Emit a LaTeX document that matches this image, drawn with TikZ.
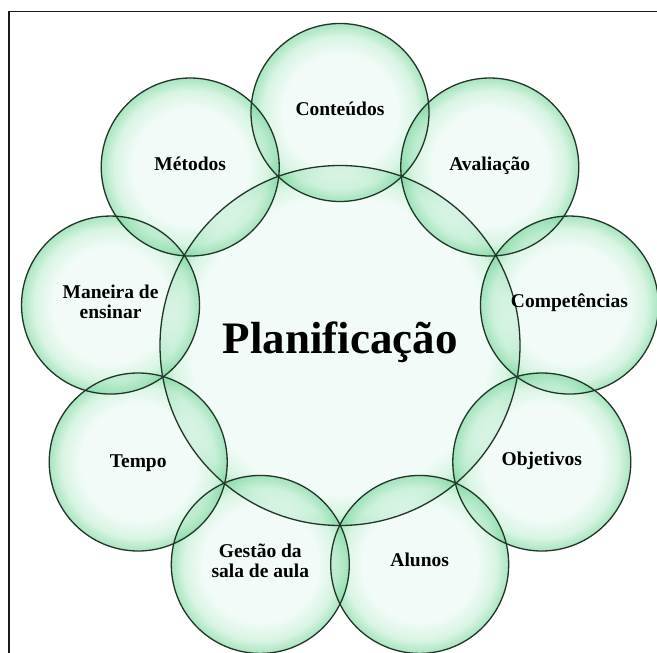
\documentclass[tikz,border=0pt]{standalone}
\usepackage{fontspec}
\setmainfont{Liberation Serif}
\usetikzlibrary{calc}
\definecolor{bubA}{RGB}{234,249,243}
\definecolor{bubB}{RGB}{190,237,208}
\definecolor{bubC}{RGB}{110,212,150}
\definecolor{rimcol}{RGB}{35,52,40}
\pgfdeclareradialshading{bubble}{\pgfpoint{0bp}{0bp}}{color(0bp)=(bubA); color(16bp)=(bubA); color(21.5bp)=(bubB); color(25bp)=(bubC); color(50bp)=(bubC)}
\pgfdeclareradialshading{bigbubble}{\pgfpoint{0bp}{0bp}}{color(0bp)=(bubA); color(20.5bp)=(bubA); color(23.3bp)=(bubB); color(25bp)=(bubC); color(50bp)=(bubC)}
\begin{document}
\begin{tikzpicture}[x=1pt,y=1pt,
  bubfill/.style={shading=bubble, fill opacity=0.6},
  bigfill/.style={shading=bigbubble, fill opacity=0.6},
  ring/.style={circle, draw=rimcol, line width=1.3pt, inner sep=0pt, outer sep=0pt},
  small/.style={ring, minimum size=178pt},
  lbl/.style={font=\fontsize{19.5}{20}\selectfont\bfseries, inner sep=0pt, anchor=base}]
\useasboundingbox (0,0) rectangle (657,-653);
\coordinate (C) at (340,-345.5);
\coordinate (fa) at (9,-660);
\coordinate (fb) at (9,-11.5);
\coordinate (fc) at (660,-11.5);
\draw[line width=1.7pt, black!90] (fa) -- (fb) -- (fc);
% fills
\shade[bigfill] (C) circle[radius=180];
\foreach \a in {90,50,10,-30,-70,-110,-150,170,130}
  \shade[bubfill] ($(C)+(\a:233)$) circle[radius=89];
% outlines
\node[ring, minimum size=360pt] (plan) at (C) {};
\node[small] (cont) at ($(C)+(90:233)$) {};
\node[small] (aval) at ($(C)+(50:233)$) {};
\node[small] (comp) at ($(C)+(10:233)$) {};
\node[small] (obj) at ($(C)+(-30:233)$) {};
\node[small] (alun) at ($(C)+(-70:233)$) {};
\node[small] (gest) at ($(C)+(-110:233)$) {};
\node[small] (temp) at ($(C)+(-150:233)$) {};
\node[small] (man) at ($(C)+(170:233)$) {};
\node[small] (met) at ($(C)+(130:233)$) {};
% labels
\node[anchor=base, inner sep=0pt, font=\fontsize{45}{48}\selectfont\bfseries] (ptext) at ([yshift=-7.5pt]plan.center) {Planificação};
\node[lbl] (lcont) at ([yshift=-3pt]cont.center) {Conteúdos};
\node[lbl] (laval) at ([yshift=-3pt]aval.center) {Avaliação};
\node[lbl] (lcomp) at ([yshift=-2.5pt]comp.center) {Competências};
\node[lbl] (lobj) at ([yshift=-3pt]obj.center) {Objetivos};
\node[lbl] (lalun) at ([yshift=-2.5pt]alun.center) {Alunos};
\node[lbl] (ltemp) at ([yshift=-5pt]temp.center) {Tempo};
\node[lbl] (lmet) at ([yshift=-3.5pt]met.center) {Métodos};
\node[lbl] (lman1) at ([yshift=6.7pt]man.center) {Maneira de};
\node[lbl] (lman2) at ([yshift=-13.3pt]man.center) {ensinar};
\node[lbl] (lgest1) at ([yshift=6.7pt]gest.center) {Gestão da};
\node[lbl] (lgest2) at ([yshift=-13.3pt]gest.center) {sala de aula};
\end{tikzpicture}
\end{document}
